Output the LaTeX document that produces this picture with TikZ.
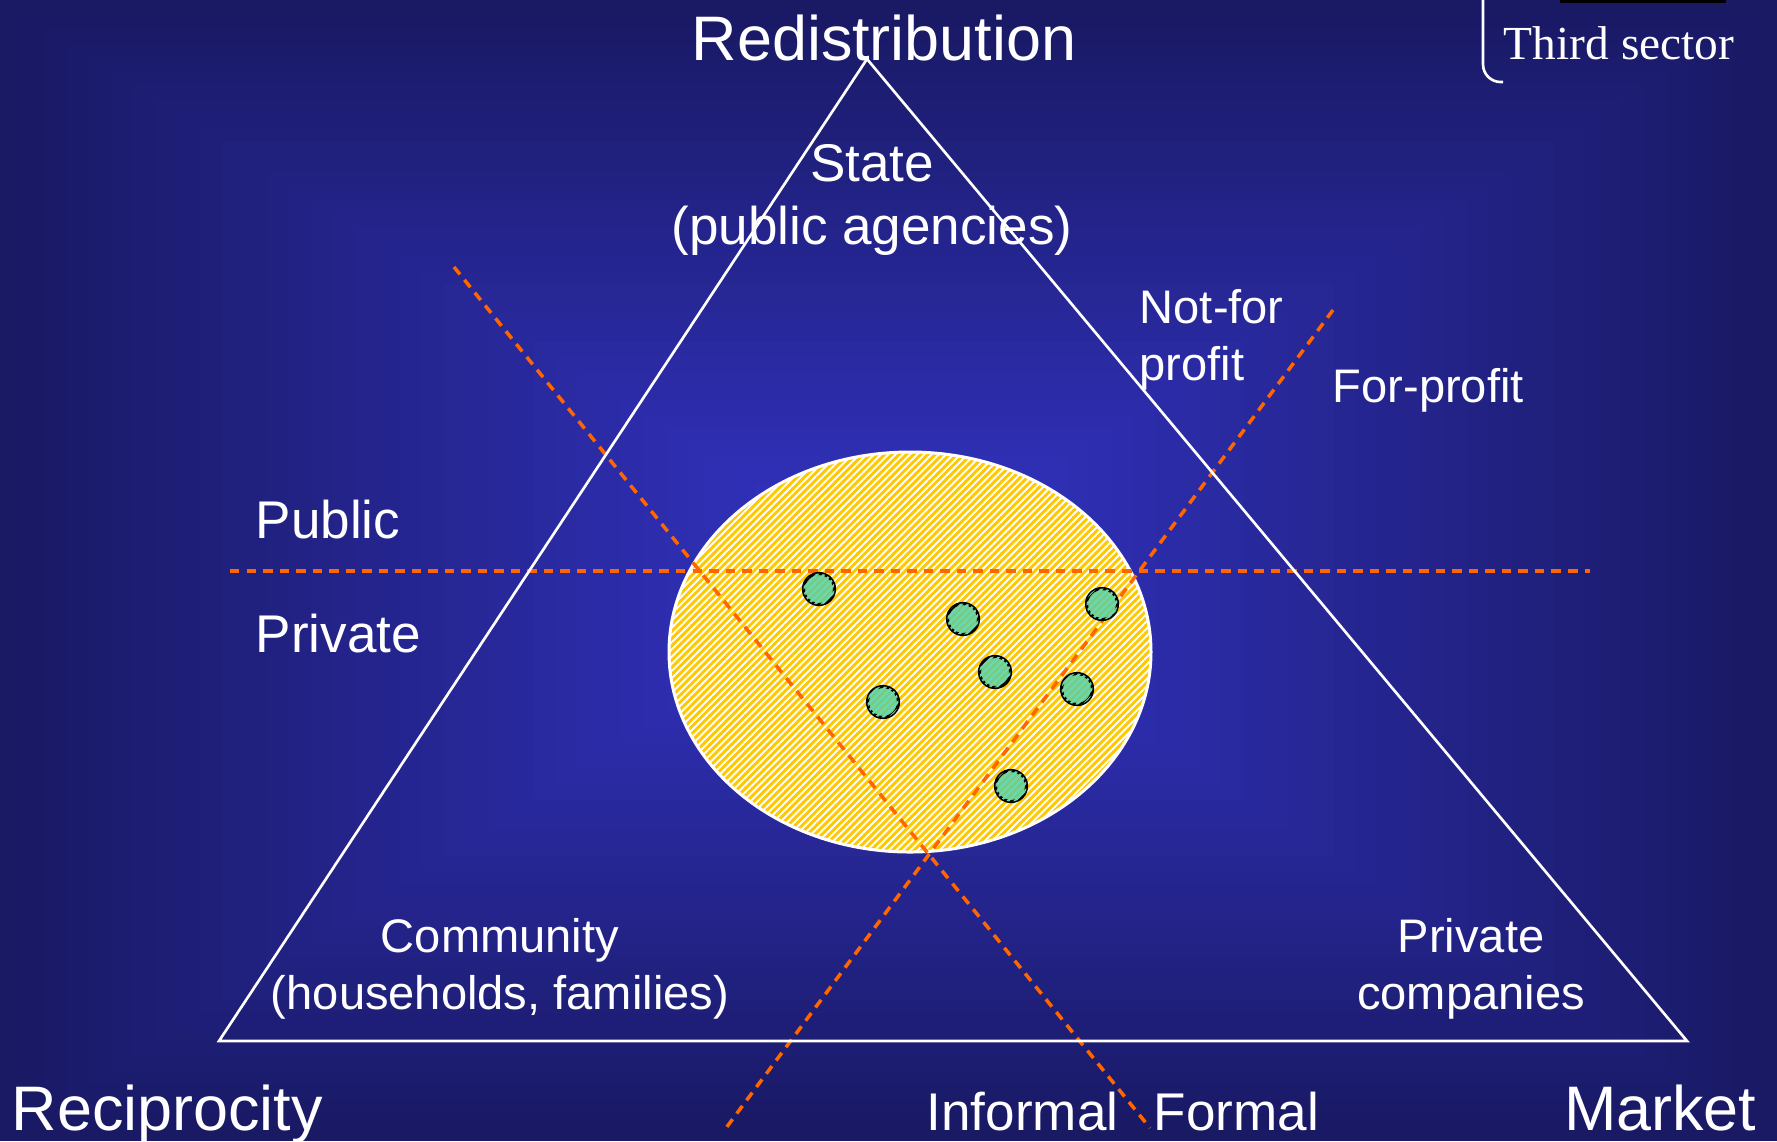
\documentclass[tikz,border=0pt]{standalone}
\usepackage{fontspec}
\setmainfont{Liberation Sans}
\newfontfamily\timesfont{Liberation Serif}
\usepackage{tikz}
\usetikzlibrary{patterns.meta}
\definecolor{navyout}{RGB}{25,25,100}
\definecolor{navyin}{RGB}{52,52,200}
\definecolor{cutorange}{RGB}{255,102,0}
\definecolor{hatchyellow}{RGB}{255,200,0}
\definecolor{orggreen}{RGB}{118,204,128}
\definecolor{orgcyan}{RGB}{108,216,178}
\tikzset{
  tri/.style={draw=white, line width=0.75pt},
  cut/.style={draw=cutorange, line width=1pt, dash pattern=on 2.7pt off 2pt},
  pole/.style={text=white, inner sep=0pt, font=\fontsize{17.9}{21}\selectfont},
  side/.style={text=white, inner sep=0pt, font=\fontsize{15.1}{17.8}\selectfont},
  corner/.style={text=white, inner sep=0pt, font=\fontsize{13.4}{16.2}\selectfont},
  org/.style={circle, draw=black, line width=0.9pt, minimum size=3.1mm, inner sep=0pt,
    fill=orggreen, postaction={pattern={Lines[angle=45,distance=1.4pt,line width=0.65pt]}, pattern color=orgcyan}}
}

\begin{document}
\begin{tikzpicture}[x=0.1mm, y=-0.1mm]
\useasboundingbox (0,0) rectangle (1777,1141);

% background, brighter towards the middle
\foreach \k in {40,39,...,1}{
  \pgfmathtruncatemacro\p{100-\k*2.5}
  \fill[navyin!\p!navyout] ({888.5-\k*22.22},{570.5-\k*14.27}) rectangle ({888.5+\k*22.22},{570.5+\k*14.27});
}

% corners of the triangle
\coordinate (redis) at (867,59);
\coordinate (recip) at (219,1041);
\coordinate (mkt) at (1687,1041);

% third sector area
\fill[hatchyellow] (910,652) ellipse [x radius=241, y radius=200];
\fill[pattern={Lines[angle=45,distance=1.45pt,line width=0.55pt]}, pattern color=white]
  (910,652) ellipse [x radius=241, y radius=200];
\draw[white, line width=0.85pt] (910,652) ellipse [x radius=241, y radius=200];

% dividing lines
\coordinate (pub1) at (230,571);
\coordinate (pub2) at (1590,571);
\coordinate (form1) at (454,267);
\coordinate (form2) at (1150,1128);
\coordinate (prof1) at (1333,310);
\coordinate (prof2) at (726,1128);
\draw[cut] (pub1) -- (pub2);
\draw[cut] (form1) -- (form2);
\draw[cut] (prof1) -- (prof2);

\draw[tri] (redis) -- (mkt) -- (recip) -- cycle;

% organisations
\foreach \i/\x/\y in {1/819/589, 2/963/619, 3/1102/604, 4/995/672, 5/883/702, 6/1077/689, 7/1011/786}
  \node[org] (o\i) at (\x,\y) {};

% poles
\node[pole, anchor=base] (redislbl) at (884,60) {Redistribution};
\node[pole, anchor=base west] (reciplbl) at (11,1130) {Reciprocity};
\node[pole, anchor=base east] (mktlbl) at (1757,1130) {Market};

% sectors
\node[side, anchor=base] (state) at (872,181) {State};
\node[side, anchor=base] (agencies) at (872,244) {(public agencies)};
\node[side, anchor=base west] (public) at (255,538) {Public};
\node[side, anchor=base west] (private) at (255,652) {Private};
\node[side, anchor=base west] (informal) at (926,1130) {Informal};
\node[side, anchor=base west] (formal) at (1153,1130) {Formal};

\node[corner, anchor=base west] (notfor) at (1139,323) {Not-for};
\node[corner, anchor=base west] (notfor2) at (1139,380) {profit};
\node[corner, anchor=base west] (forprofit) at (1332,402) {For-profit};
\node[corner, anchor=base] (community) at (500,952) {Community};
\node[corner, anchor=base] (households) at (500,1009) {(households, families)};
\node[corner, anchor=base] (privco) at (1471,952) {Private};
\node[corner, anchor=base] (companies) at (1471,1009) {companies};

% third sector key
\fill[black] (1560,0) rectangle (1726,3);
\draw[white, line width=0.75pt, rounded corners=5pt] (1483,0) -- (1483,82) -- (1503,82);
\node[text=white, inner sep=0pt, anchor=base west, font=\timesfont\fontsize{13.5}{16}\selectfont] (third) at (1503,59) {Third sector};
\end{tikzpicture}
\end{document}
